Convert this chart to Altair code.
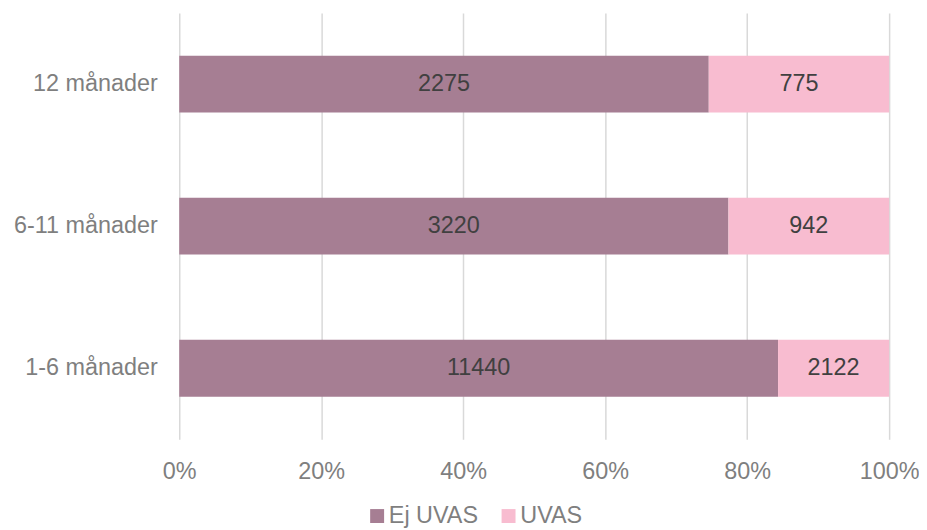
import altair as alt
import pandas as pd

categories = ["12 månader", "6-11 månader", "1-6 månader"]
series = ["Ej UVAS", "UVAS"]
ej_uvas = [2275, 3220, 11440]
uvas = [775, 942, 2122]

rows = []
for c, a, b in zip(categories, ej_uvas, uvas):
    rows.append({"cat": c, "serie": "Ej UVAS", "val": a, "ord": 0})
    rows.append({"cat": c, "serie": "UVAS", "val": b, "ord": 1})
df = pd.DataFrame(rows)

FONT = "Liberation Sans"
FS = 23.5
colors = ["#A67E93", "#F8BCD0"]

base = alt.Chart(df).transform_stack(
    stack="val", groupby=["cat"], as_=["x0", "x1"], offset="normalize",
    sort=[alt.SortField("ord", order="ascending")]
).transform_calculate(mid="(datum.x0 + datum.x1) / 2")

y_enc = alt.Y("cat:N", sort=categories, title=None,
              scale=alt.Scale(paddingInner=0.6, paddingOuter=0.3),
              axis=alt.Axis(labelFont=FONT, labelFontSize=FS, labelColor="#7F7F7F",
                            labelPadding=22, ticks=False, domain=False, grid=False))

bars = base.mark_bar().encode(
    x=alt.X("x0:Q", title=None, scale=alt.Scale(domain=[0, 1], nice=False),
            axis=alt.Axis(format="%", values=[0, 0.2, 0.4, 0.6, 0.8, 1.0],
                          labelFont=FONT, labelFontSize=FS, labelColor="#7F7F7F",
                          labelPadding=20, labelFlush=False, ticks=False, domain=False,
                          grid=True, gridColor="#D9D9D9", gridWidth=1.5)),
    x2="x1:Q",
    y=y_enc,
    color=alt.Color("serie:N", sort=series,
                    scale=alt.Scale(domain=series, range=colors),
                    legend=alt.Legend(title=None, orient="none", direction="horizontal",
                                      legendX=187, legendY=493,
                                      symbolType="square", symbolSize=196, symbolStrokeWidth=0,
                                      labelFont=FONT, labelFontSize=FS, labelColor="#7F7F7F",
                                      columnPadding=18, labelOffset=0)),
)

texts = base.mark_text(font=FONT, fontSize=FS, color="#404040").encode(
    x=alt.X("mid:Q"),
    y=alt.Y("cat:N", sort=categories),
    text=alt.Text("val:Q"),
)

chart = (bars + texts).properties(
    width=713, height=428,
    autosize=alt.AutoSizeParams(type="none"),
    padding={"left": 172, "top": 4, "right": 30, "bottom": 90},
).configure_view(stroke=None)

chart.save("out.html", embed_options={"renderer": "svg", "actions": False})
